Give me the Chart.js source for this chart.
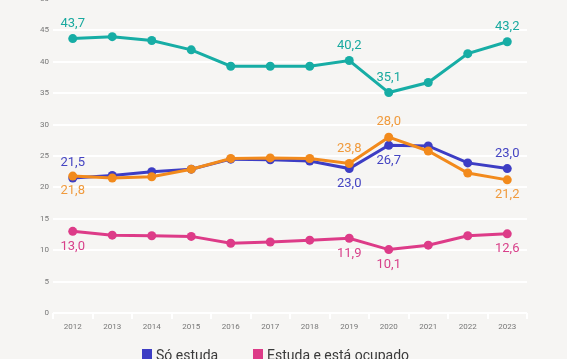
<!DOCTYPE html>
<html>
<head>
<meta charset="utf-8">
<script src="https://cdn.jsdelivr.net/npm/chart.js@4/dist/chart.umd.min.js"></script>
<style>
  html, body { margin: 0; padding: 0; background: #f6f5f3; overflow: hidden; }
  #wrap { position: absolute; left: 0; top: -12px; width: 567px; height: 371px; }
  .legend { position: absolute; top: 347px; font: 14px Roboto, sans-serif; color: #3a3a3a; white-space: nowrap; }
  .legend span.box { display: inline-block; width: 10px; height: 12px; vertical-align: -1px; margin-right: 4px; }
</style>
</head>
<body>
<div id="wrap"><canvas id="chart" width="567" height="371"></canvas></div>
<div class="legend" style="left:142px"><span class="box" style="background:#3d3dc4"></span>Só estuda</div>
<div class="legend" style="left:253px"><span class="box" style="background:#dd3b88"></span>Estuda e está ocupado</div>
<script>
const years = ['2012', '2013', '2014', '2015', '2016', '2017', '2018', '2019', '2020', '2021', '2022', '2023'];
const yTicks = [0, 5, 10, 15, 20, 25, 30, 35, 40, 45, 50];

const soEstuda = [21.5, 21.9, 22.5, 22.9, 24.5, 24.4, 24.2, 23.0, 26.7, 26.6, 23.9, 23.0];
const estudaOcupado = [13.0, 12.4, 12.3, 12.2, 11.1, 11.3, 11.6, 11.9, 10.1, 10.8, 12.3, 12.6];
const soOcupado = [43.7, 44.0, 43.4, 41.9, 39.3, 39.3, 39.3, 40.2, 35.1, 36.7, 41.3, 43.2];
const nemNem = [21.8, 21.5, 21.7, 22.9, 24.6, 24.7, 24.6, 23.8, 28.0, 25.8, 22.3, 21.2];

const fmt = v => v.toFixed(1).replace('.', ',');

// which points get a value label, and on which side
const pointLabels = {
  0: { color: '#19a99f', idx: [0, 7, 8, 11], side: [-1, -1, -1, -1] },
  1: { color: '#f09a3c', idx: [0, 7, 8, 11], side: [1, -1, -1, 1] },
  2: { color: '#4444c2', idx: [0, 7, 8, 11], side: [-1, 1, 1, -1] },
  3: { color: '#d8418a', idx: [0, 7, 8, 11], side: [1, 1, 1, 1] }
};

const labelPlugin = {
  id: 'pointLabels',
  afterDatasetsDraw(chart) {
    const ctx = chart.ctx;
    ctx.save();
    ctx.font = '13px Roboto, sans-serif';
    ctx.textAlign = 'center';
    ctx.textBaseline = 'middle';
    Object.keys(pointLabels).forEach(di => {
      const cfg = pointLabels[di];
      const meta = chart.getDatasetMeta(+di);
      const data = chart.data.datasets[di].data;
      ctx.fillStyle = cfg.color;
      cfg.idx.forEach((i, k) => {
        const pt = meta.data[i];
        ctx.fillText(fmt(data[i]), pt.x, pt.y + cfg.side[k] * 15);
      });
    });
    ctx.restore();
  }
};

function line(data, color) {
  return {
    data: data,
    borderColor: color,
    backgroundColor: color,
    borderWidth: 3,
    pointRadius: 4.5,
    pointBorderWidth: 0,
    pointBackgroundColor: color,
    tension: 0
  };
}

new Chart(document.getElementById('chart'), {
  type: 'line',
  data: {
    labels: years,
    datasets: [
      line(soOcupado, '#17ada5'),
      line(nemNem, '#f28a1c'),
      line(soEstuda, '#3d3dc4'),
      line(estudaOcupado, '#dd3b88')
    ]
  },
  options: {
    responsive: false,
    animation: false,
    layout: { padding: { top: 11, right: 40, bottom: 26, left: 0 } },
    plugins: { legend: { display: false }, tooltip: { enabled: false } },
    scales: {
      x: {
        offset: true,
        grid: { display: true, drawOnChartArea: false, drawTicks: true, tickLength: 6, color: '#ffffff', lineWidth: 2, offset: true },
        border: { display: false },
        ticks: { color: '#777', font: { family: 'Roboto', size: 8 }, padding: 3, maxRotation: 0 },
        afterFit: s => { s.height = 20; }
      },
      y: {
        min: 0,
        max: 50,
        afterBuildTicks: s => { s.ticks = yTicks.map(v => ({ value: v })); },
        grid: { color: '#ffffff', lineWidth: 2, drawTicks: false },
        border: { display: false },
        ticks: { color: '#777', font: { family: 'Roboto', size: 8 }, padding: 4 },
        afterFit: s => { s.width = 53; }
      }
    }
  },
  plugins: [labelPlugin]
});
</script>
</body>
</html>
